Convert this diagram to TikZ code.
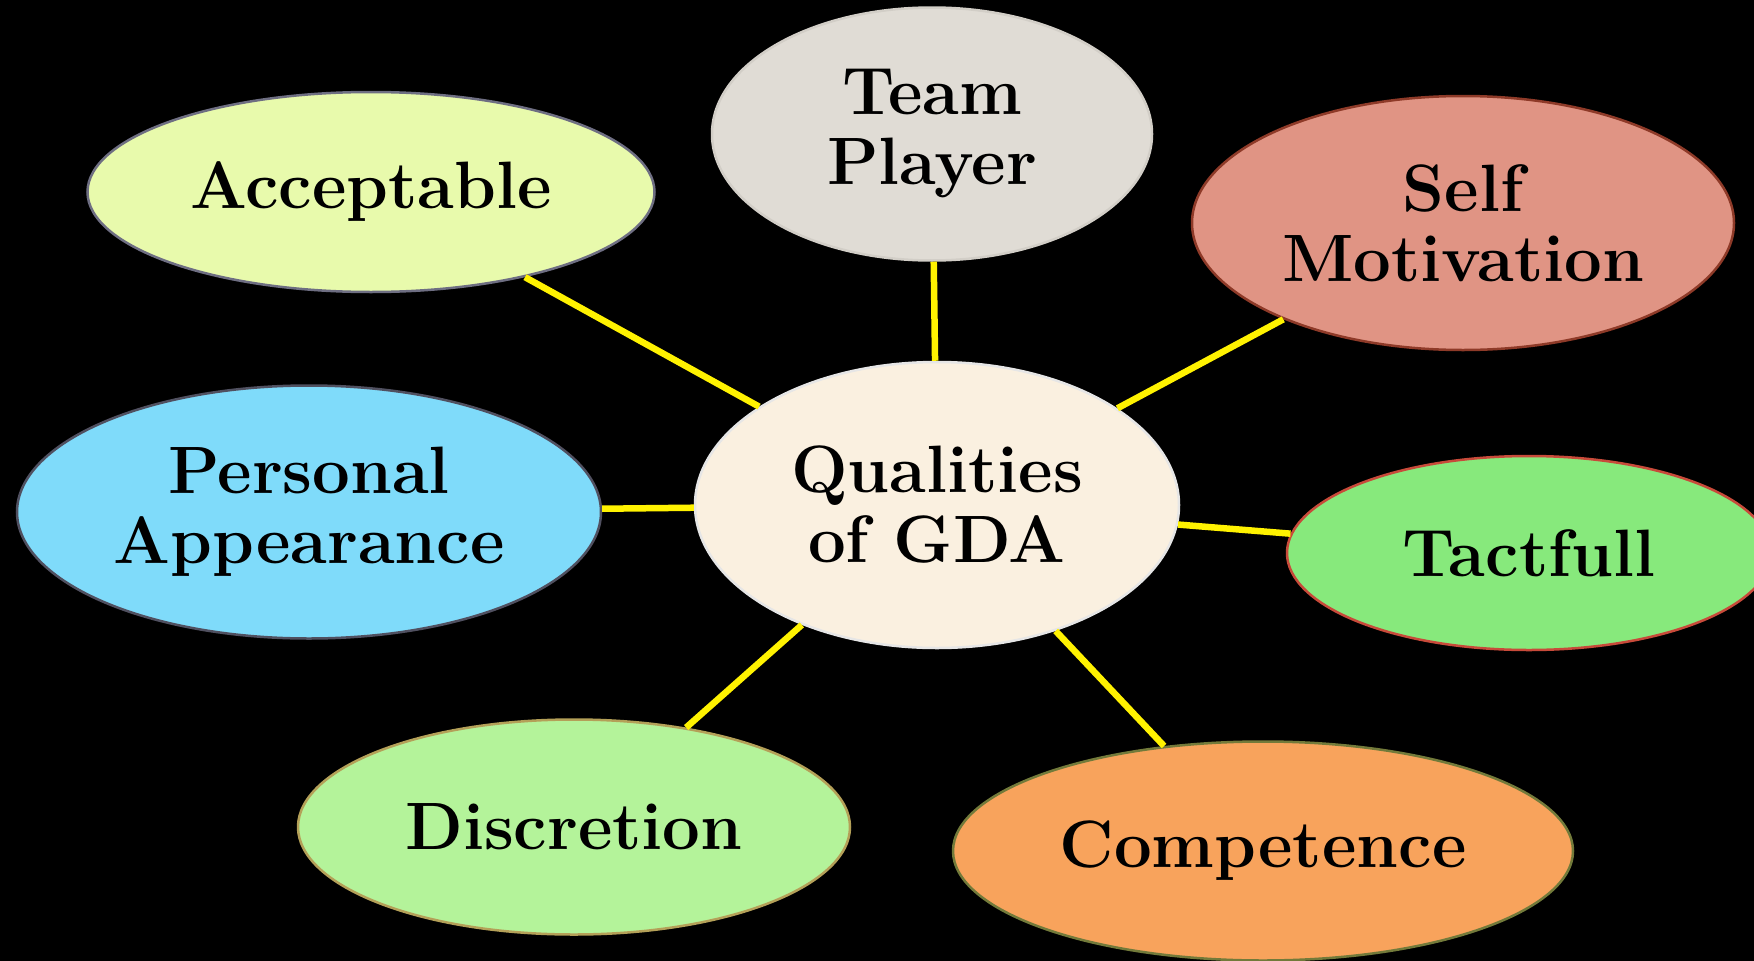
\documentclass[tikz,border=0pt]{standalone}
\usetikzlibrary{shapes.geometric}

\definecolor{gdafill}{HTML}{FAF0E0}
\definecolor{gdaline}{HTML}{E6E6E6}
\definecolor{teamfill}{HTML}{E0DCD5}
\definecolor{teamline}{HTML}{D2CEC7}
\definecolor{accfill}{HTML}{E8FAAC}
\definecolor{accline}{HTML}{6E6E82}
\definecolor{selffill}{HTML}{E09484}
\definecolor{selfline}{HTML}{8E3A28}
\definecolor{persfill}{HTML}{7FDBFA}
\definecolor{persline}{HTML}{505060}
\definecolor{tactfill}{HTML}{87E97C}
\definecolor{tactline}{HTML}{C84A3A}
\definecolor{discfill}{HTML}{B4F39A}
\definecolor{discline}{HTML}{B4A058}
\definecolor{compfill}{HTML}{F8A35C}
\definecolor{compline}{HTML}{727A3A}

\begin{document}
\begin{tikzpicture}[x=1pt, y=-1pt,
  quality/.style={ellipse, inner sep=0pt, line width=2.5pt, align=center,
    font=\fontsize{67}{70}\selectfont\bfseries},
  link/.style={yellow, line width=6.5pt}]
\path[use as bounding box, fill=black] (0,0) rectangle (1754,961);
\clip (0,0) rectangle (1754,961);

% centre and the seven qualities
\node[quality, fill=gdafill, draw=gdaline, minimum width=484, minimum height=286] (gda) at (937,505) {Qualities\\of GDA};
\node[quality, fill=teamfill, draw=teamline, minimum width=440, minimum height=253] (team) at (932,134) {Team\\Player};
\node[quality, fill=accfill, draw=accline, minimum width=567, minimum height=200] (acc) at (371,192) {Acceptable};
\node[quality, fill=selffill, draw=selfline, minimum width=542, minimum height=254] (self) at (1463,223) {Self\\Motivation};
\node[quality, fill=persfill, draw=persline, minimum width=584, minimum height=253] (pers) at (309,512) {Personal\\Appearance};
\node[quality, fill=tactfill, draw=tactline, minimum width=484, minimum height=194] (tact) at (1529,553) {Tactfull};
\node[quality, fill=discfill, draw=discline, minimum width=552, minimum height=215] (disc) at (574,827) {Discretion};
\node[quality, fill=compfill, draw=compline, minimum width=620, minimum height=219] (comp) at (1263,851) {Competence};

% spokes
\foreach \q in {team,acc,self,pers,tact,disc,comp}
  \draw[link] (gda) -- (\q);
\end{tikzpicture}
\end{document}
